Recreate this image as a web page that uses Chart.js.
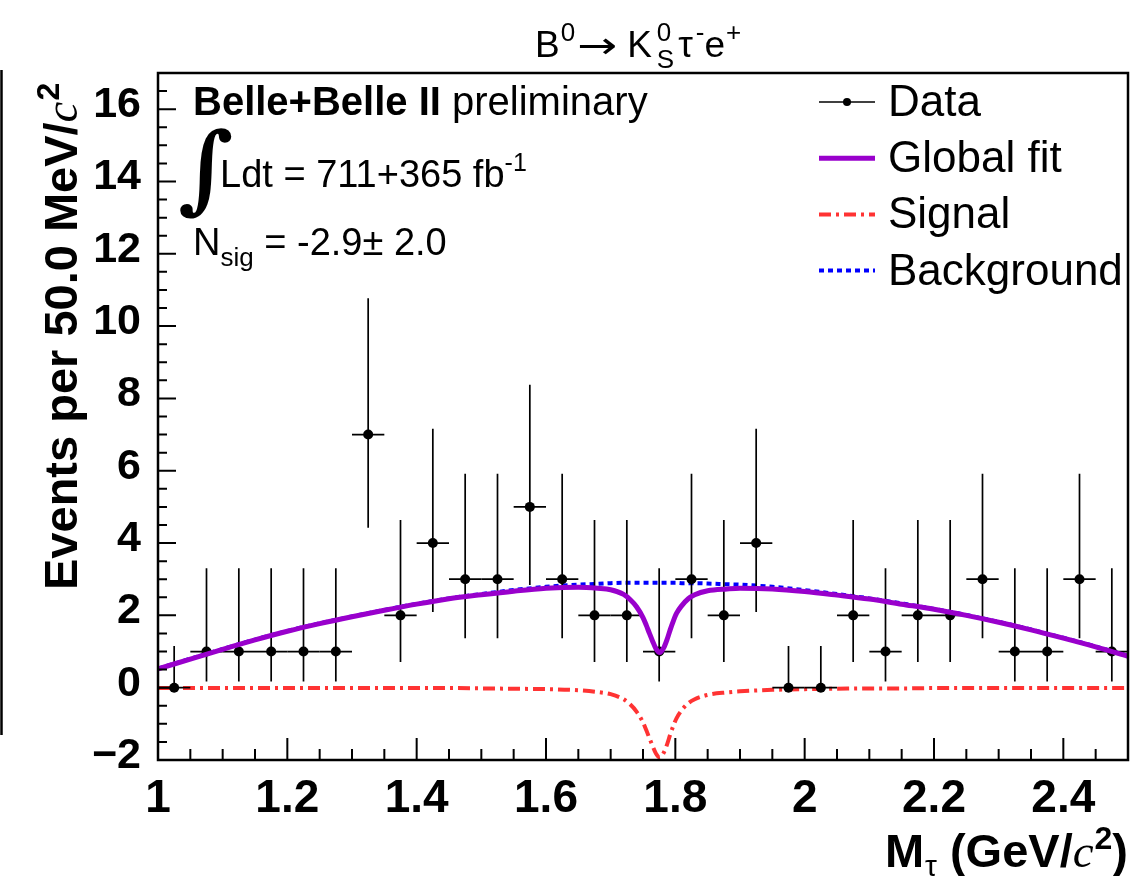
<!DOCTYPE html>
<html><head><meta charset="utf-8">
<script src="https://cdn.jsdelivr.net/npm/chart.js@4.4.1/dist/chart.umd.min.js"></script>
<style>html,body{margin:0;padding:0;background:#fff;}#wrap{width:1138px;height:876px;}</style>
</head><body><div id="wrap"><canvas id="c" width="1138" height="876"></canvas></div>
<script>
// ---- data ----
const binCenters = [1.025,1.075,1.125,1.175,1.225,1.275,1.325,1.375,1.425,1.475,1.525,1.575,1.625,1.675,1.725,1.775,1.825,1.875,1.925,1.975,2.025,2.075,2.125,2.175,2.225,2.275,2.325,2.375,2.425,2.475];
const counts     = [0,1,1,1,1,1,7,2,4,3,3,5,3,2,2,1,3,2,4,0,0,2,1,2,2,3,1,1,3,1];
const errLow     = [0,0.83,0.83,0.83,0.83,0.83,2.58,1.29,1.91,1.63,1.63,2.16,1.63,1.29,1.29,0.83,1.63,1.29,1.91,0,0,1.29,0.83,1.29,1.29,1.63,0.83,0.83,1.63,0.83];
const errHigh    = [1.15,2.30,2.30,2.30,2.30,2.30,3.77,2.64,3.16,2.92,2.92,3.38,2.92,2.64,2.64,2.30,2.92,2.64,3.16,1.15,1.15,2.64,2.30,2.64,2.64,2.92,2.30,2.30,2.92,2.30];
const binHalfWidth = 0.025;

const fitX = [1.0,1.05,1.1,1.15,1.2,1.25,1.3,1.35,1.4,1.45,1.5,1.55,1.6,1.65,
              1.68,1.7,1.72,1.73,1.74,1.75,
              1.755,1.76,1.765,1.77,1.776,
              1.782,1.787,1.792,1.797,1.802,
              1.81,1.82,1.83,1.85,1.88,1.9,
              1.95,2.0,2.05,2.1,2.15,2.2,2.25,2.3,2.35,2.4,2.45,2.5];
const bkgY = [0.53,0.80,1.07,1.33,1.57,1.78,1.97,2.15,2.32,2.47,2.59,2.70,2.79,2.85,
              2.87,2.89,2.90,2.90,2.90,2.90,
              2.90,2.90,2.90,2.90,2.90,
              2.90,2.90,2.90,2.90,2.90,
              2.89,2.89,2.89,2.88,2.86,2.85,
              2.79,2.70,2.59,2.47,2.33,2.18,2.01,1.82,1.61,1.38,1.14,0.88];
const sigY = [-0.01,-0.01,-0.01,-0.01,-0.01,-0.01,-0.01,-0.01,-0.01,-0.01,-0.02,-0.03,-0.04,-0.07,
              -0.12,-0.18,-0.32,-0.46,-0.66,-0.96,
              -1.17,-1.40,-1.62,-1.82,-1.93,
              -1.80,-1.58,-1.30,-1.05,-0.84,
              -0.62,-0.43,-0.32,-0.20,-0.13,-0.10,
              -0.06,-0.04,-0.03,-0.02,-0.02,-0.01,-0.01,-0.01,-0.01,-0.01,-0.01,-0.01];
const totY = [0.52,0.79,1.06,1.32,1.56,1.77,1.96,2.14,2.31,2.46,2.57,2.67,2.75,2.78,
              2.75,2.71,2.58,2.44,2.24,1.94,
              1.73,1.50,1.28,1.08,0.97,
              1.10,1.32,1.60,1.85,2.06,
              2.27,2.46,2.57,2.68,2.73,2.75,
              2.73,2.66,2.56,2.45,2.31,2.17,2.00,1.81,1.60,1.37,1.13,0.87];

const xTickLabels = ['1','1.2','1.4','1.6','1.8','2','2.2','2.4'];
const yTickLabels = ['\u22122','0','2','4','6','8','10','12','14','16'];
const legendLabels = ['Data','Global fit','Signal','Background'];

// ---- styles ----
const SANS = '"Liberation Sans", Arial, Helvetica, sans-serif';
const SERIF = '"Liberation Serif", "Times New Roman", serif';
const purple = '#9900cc', red = '#ff3333', blue = '#0000ff';

const pts = (ys) => fitX.map((x, i) => ({x: x, y: ys[i]}));

function drawParts(ctx, x, y, parts) {
  let cx = x;
  for (const p of parts) {
    ctx.font = p.f;
    const dx = p.dx || 0;
    const w = ctx.measureText(p.t).width;
    if (p.w) {
      ctx.save(); ctx.translate(cx + dx, y + (p.dy || 0)); ctx.scale(p.w / w, 1);
      ctx.fillText(p.t, 0, 0); ctx.restore();
    } else {
      ctx.fillText(p.t, cx + dx, y + (p.dy || 0));
    }
    if (!p.stay) cx += dx + (p.w || w);
  }
  return cx;
}
function partsWidth(ctx, parts) {
  let w = 0;
  for (const p of parts) { ctx.font = p.f; if (!p.stay) w += (p.dx || 0) + (p.w || ctx.measureText(p.t).width); }
  return w;
}

const decor = {
  id: 'decor',
  beforeDatasetDraw(chart, args) {
    if (args.index !== 1) return;
    const ctx = chart.ctx, xs = chart.scales.x, ys = chart.scales.y, a = chart.chartArea;
    ctx.save();
    ctx.beginPath(); ctx.rect(a.left, a.top, a.right - a.left, a.bottom - a.top); ctx.clip();
    ctx.strokeStyle = '#000'; ctx.lineWidth = 1.7;
    binCenters.forEach((c, i) => {
      const px = xs.getPixelForValue(c), py = ys.getPixelForValue(counts[i]);
      ctx.beginPath();
      ctx.moveTo(xs.getPixelForValue(c - binHalfWidth), py);
      ctx.lineTo(xs.getPixelForValue(c + binHalfWidth), py);
      ctx.moveTo(px, ys.getPixelForValue(counts[i] - errLow[i]));
      ctx.lineTo(px, ys.getPixelForValue(counts[i] + errHigh[i]));
      ctx.stroke();
    });
    ctx.restore();
  },
  afterDraw(chart) {
    const ctx = chart.ctx, xs = chart.scales.x, ys = chart.scales.y, a = chart.chartArea;
    ctx.save();
    ctx.fillStyle = '#000'; ctx.strokeStyle = '#000';
    // ticks (inside)
    ctx.lineWidth = 2;
    ctx.beginPath();
    for (let k = 0; k <= 37; k++) {
      const v = ys.min + k * 0.5; const py = ys.getPixelForValue(v);
      const len = (k % 4 === 0) ? 18 : 9;
      ctx.moveTo(a.left, py); ctx.lineTo(a.left + len, py);
    }
    for (let k = 1; k < 30; k++) {
      const v = xs.min + k * 0.05; const px = xs.getPixelForValue(v);
      const len = (k % 4 === 0) ? 22 : 11;
      ctx.moveTo(px, a.bottom); ctx.lineTo(px, a.bottom - len);
    }
    ctx.stroke();
    // frame
    ctx.lineWidth = 2.5;
    ctx.strokeRect(a.left, a.top, a.right - a.left, a.bottom - a.top);
    // left decorative edge line
    ctx.beginPath(); ctx.moveTo(1.5, 70); ctx.lineTo(1.5, 735); ctx.stroke();

    ctx.textBaseline = 'alphabetic'; ctx.textAlign = 'left';
    // title
    drawParts(ctx, 535, 57, [
      {t: 'B', f: `37px ${SANS}`},
      {t: '0', f: `26px ${SANS}`, dy: -16, dx: 1},
      {t: '\u2192', f: `37px "DejaVu Sans", ${SANS}`, dx: 2, w: 40, dy: 1},
      {t: 'K', f: `37px ${SANS}`, dx: 10},
      {t: '0', f: `26px ${SANS}`, dy: -16, dx: 5, stay: true},
      {t: 'S', f: `26px ${SANS}`, dy: 11, dx: 5},
      {t: '\u03c4', f: `37px ${SANS}`, dx: 4},
      {t: '-', f: `26px ${SANS}`, dy: -16, dx: 3},
      {t: 'e', f: `37px ${SANS}`},
      {t: '+', f: `26px ${SANS}`, dy: -16, dx: 1}
    ]);
    // annotations
    drawParts(ctx, 193, 115, [
      {t: 'Belle+Belle II', f: `bold 40px ${SANS}`},
      {t: ' preliminary', f: `40px ${SANS}`}
    ]);
    ctx.font = `bold 96px "DejaVu Serif", ${SERIF}`;
    ctx.textBaseline = 'middle';
    ctx.fillText('\u222b', 178, 176);
    ctx.textBaseline = 'alphabetic';
    drawParts(ctx, 220, 187, [
      {t: 'Ldt = 711+365 fb', f: `38px ${SANS}`},
      {t: '-1', f: `25px ${SANS}`, dy: -16}
    ]);
    drawParts(ctx, 193, 255, [
      {t: 'N', f: `38px ${SANS}`},
      {t: 'sig', f: `26px ${SANS}`, dy: 11},
      {t: ' = -2.9\u00b1 2.0', f: `38px ${SANS}`}
    ]);
    // y axis title (rotated)
    ctx.save();
    ctx.translate(77, 590); ctx.rotate(-Math.PI / 2);
    drawParts(ctx, 0, 0, [
      {t: 'Events per 50.0 MeV/', f: `bold 47px ${SANS}`},
      {t: 'c', f: `italic 47px ${SERIF}`},
      {t: '2', f: `bold 32px ${SANS}`, dy: -18, dx: 1}
    ]);
    ctx.restore();
    // x axis title (right aligned)
    const xt = [
      {t: 'M', f: `bold 47px ${SANS}`},
      {t: '\u03c4', f: `30px ${SANS}`, dy: 9, dx: 1},
      {t: ' (GeV/', f: `bold 47px ${SANS}`},
      {t: 'c', f: `italic 47px ${SERIF}`},
      {t: '2', f: `bold 32px ${SANS}`, dy: -18, dx: 1},
      {t: ')', f: `bold 47px ${SANS}`}
    ];
    drawParts(ctx, a.right - partsWidth(ctx, xt), 867, xt);
    // legend
    const ds = chart.data.datasets;
    const legendOrder = [1, 0, 2, 3];
    const lx0 = 819, lx1 = 875, ly0 = 102, dy = 56.2;
    legendOrder.forEach((di, k) => {
      const d = ds[di], y = ly0 + k * dy;
      ctx.save();
      if (di === 1) {
        ctx.strokeStyle = '#000'; ctx.lineWidth = 1.7;
        ctx.beginPath(); ctx.moveTo(lx0, y); ctx.lineTo(lx1, y); ctx.stroke();
        ctx.beginPath(); ctx.arc((lx0 + lx1) / 2, y, 4, 0, Math.PI * 2); ctx.fill();
      } else {
        ctx.strokeStyle = d.borderColor; ctx.lineWidth = d.borderWidth;
        ctx.setLineDash(d.borderDash || []);
        ctx.beginPath(); ctx.moveTo(lx0, y); ctx.lineTo(lx1, y); ctx.stroke();
      }
      ctx.restore();
      ctx.font = `44px ${SANS}`;
      ctx.fillText(legendLabels[k], 888, y + 14);
    });
    ctx.restore();
  }
};

new Chart(document.getElementById('c'), {
  data: {
    datasets: [
      {type: 'line', label: 'Global fit', data: pts(totY), borderColor: purple, borderWidth: 5,
       pointRadius: 0, cubicInterpolationMode: 'monotone', order: 0},
      {type: 'scatter', label: 'Data', data: binCenters.map((x, i) => ({x: x, y: counts[i]})),
       pointRadius: 5, pointBackgroundColor: '#000', pointBorderWidth: 0, order: 1},
      {type: 'line', label: 'Signal', data: pts(sigY), borderColor: red, borderWidth: 4,
       borderDash: [12, 5, 3, 5], pointRadius: 0, cubicInterpolationMode: 'monotone', order: 2},
      {type: 'line', label: 'Background', data: pts(bkgY), borderColor: blue, borderWidth: 4,
       borderDash: [5, 4], pointRadius: 0, cubicInterpolationMode: 'monotone', order: 3}
    ]
  },
  options: {
    responsive: false, animation: false, devicePixelRatio: 1,
    layout: {padding: {top: 73, right: 10, left: 0, bottom: 0}},
    plugins: {legend: {display: false}, tooltip: {enabled: false}, title: {display: false}},
    scales: {
      x: {type: 'linear', position: 'bottom', min: 1, max: 2.5,
          afterFit(s) { s.height = 116; },
          grid: {display: false, drawTicks: false}, border: {display: false},
          ticks: {stepSize: 0.2, includeBounds: false, autoSkip: false, maxRotation: 0, minRotation: 0,
                  padding: 12, color: '#000', font: {family: SANS, weight: 'bold', size: 46},
                  callback: (v, i) => xTickLabels[i]}},
      y: {type: 'linear', position: 'left', min: -2, max: 17,
          afterFit(s) { s.width = 158; },
          grid: {display: false, drawTicks: false}, border: {display: false},
          ticks: {stepSize: 2, includeBounds: false, autoSkip: false, padding: 17, labelOffset: -4,
                  color: '#000', font: {family: SANS, weight: 'bold', size: 43},
                  callback: (v, i) => yTickLabels[i]}}
    }
  },
  plugins: [decor]
});
</script>
</body></html>
